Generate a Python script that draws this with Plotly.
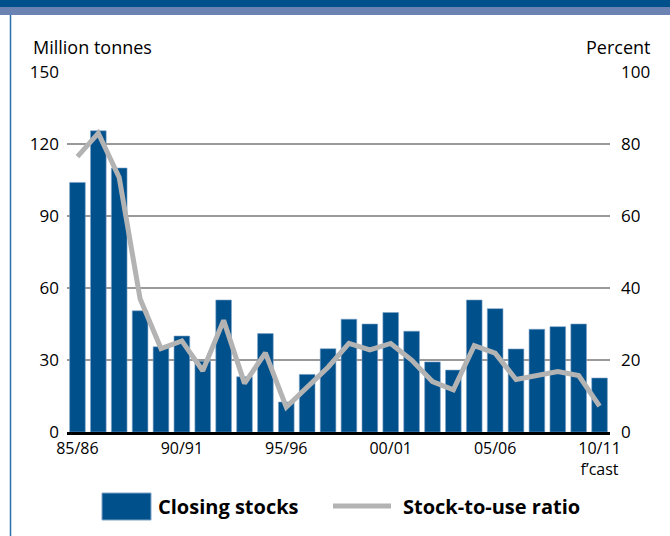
import plotly.graph_objects as go

seasons = ["85/86", "86/87", "87/88", "88/89", "89/90", "90/91", "91/92", "92/93",
           "93/94", "94/95", "95/96", "96/97", "97/98", "98/99", "99/00", "00/01",
           "01/02", "02/03", "03/04", "04/05", "05/06", "06/07", "07/08", "08/09",
           "09/10", "10/11"]
closing_stocks = [104, 125.5, 110, 50.5, 35.5, 40, 29.5, 55, 23, 41, 12.5, 24, 34.7,
                  47, 45, 49.8, 42, 29.2, 25.8, 55, 51.4, 34.6, 42.8, 43.9, 45, 22.5]
stock_to_use = [76.5, 83, 70.7, 37, 23.2, 25.3, 17, 31, 13.5, 22, 6.9, 12.5, 18,
                24.6, 22.8, 24.6, 20, 14, 11.7, 24, 21.9, 14.6, 15.6, 16.8, 15.7, 7.2]
tick_vals = ["85/86", "90/91", "95/96", "00/01", "05/06", "10/11"]
tick_text = ["85/86", "90/91", "95/96", "00/01", "05/06", "10/11<br>f\u2019cast"]
left_ticks = [0, 30, 60, 90, 120, 150]
right_ticks = [0, 20, 40, 60, 80, 100]

BLUE = "#00508C"
GREY = "#b3b3b3"
FONT = "Open Sans"

W, H = 670, 536
L, R, T, B = 67, 60, 72, 104
PW, PH = W - L - R, H - T - B


def px(x):
    return (x - L) / PW


def py(y):
    return (H - B - y) / PH


fig = go.Figure()
fig.add_trace(go.Bar(x=seasons, y=closing_stocks, name="Closing stocks",
                     marker=dict(color=BLUE, line=dict(color="#7fa3c8", width=0.6)),
                     yaxis="y"))
fig.add_trace(go.Scatter(x=seasons, y=stock_to_use, name="Stock-to-use ratio",
                         mode="lines", line=dict(color=GREY, width=5),
                         yaxis="y2"))

shapes = [
    dict(type="rect", xref="paper", yref="paper", x0=px(0), x1=px(W), y0=py(7), y1=py(0),
         fillcolor=BLUE, line_width=0, layer="above"),
    dict(type="rect", xref="paper", yref="paper", x0=px(0), x1=px(W), y0=py(15), y1=py(7),
         fillcolor="#6a83b3", line_width=0, layer="above"),
    dict(type="line", xref="paper", yref="paper", x0=px(10.5), x1=px(10.5), y0=py(H), y1=py(15),
         line=dict(color="#2a6fb0", width=1.5)),
    dict(type="rect", xref="paper", yref="paper", x0=px(102), x1=px(151), y0=py(520), y1=py(493),
         fillcolor=BLUE, line=dict(color="#7fa3c8", width=1)),
    dict(type="line", xref="paper", yref="paper", x0=px(333), x1=px(391), y0=py(506), y1=py(506),
         line=dict(color=GREY, width=5)),
]

annotations = [
    dict(text="Million tonnes", xref="paper", yref="paper", x=px(31), y=py(47),
         xanchor="left", yanchor="middle", showarrow=False,
         font=dict(family=FONT, size=18, color="black")),
    dict(text="Percent", xref="paper", yref="paper", x=px(652), y=py(47),
         xanchor="right", yanchor="middle", showarrow=False,
         font=dict(family=FONT, size=18, color="black")),
    dict(text="<b>Closing stocks</b>", xref="paper", yref="paper", x=px(156), y=py(506),
         xanchor="left", yanchor="middle", showarrow=False,
         font=dict(family=FONT, size=20, color="black")),
    dict(text="<b>Stock-to-use ratio</b>", xref="paper", yref="paper", x=px(401), y=py(506),
         xanchor="left", yanchor="middle", showarrow=False,
         font=dict(family=FONT, size=20, color="black")),
]

fig.update_layout(
    width=W, height=H,
    margin=dict(l=L, r=R, t=T, b=B, pad=0),
    paper_bgcolor="white", plot_bgcolor="white",
    showlegend=False,
    bargap=0.25,
    font=dict(family=FONT, size=17, color="black"),
    xaxis=dict(type="category", tickmode="array", tickvals=tick_vals, ticktext=tick_text,
               showgrid=False, showline=True, linecolor="black", linewidth=2.5,
               ticks="", tickfont=dict(size=16), ticklabelstandoff=0,
               range=[-0.5, len(seasons) - 0.5]),
    yaxis=dict(range=[0, 150], tickvals=left_ticks, showgrid=True, gridcolor="#999999",
               gridwidth=1.5, zeroline=False, showline=False, ticks="",
               ticklabelstandoff=7, tickfont=dict(size=17)),
    yaxis2=dict(range=[0, 100], tickvals=right_ticks, overlaying="y", side="right",
                showgrid=False, zeroline=False, showline=False, ticks="",
                ticklabelstandoff=10, tickfont=dict(size=17)),
    shapes=shapes,
    annotations=annotations,
)

fig.write_html("out.html", config={"displayModeBar": False},
               post_script="document.body.style.margin='0';document.body.style.padding='0';")
